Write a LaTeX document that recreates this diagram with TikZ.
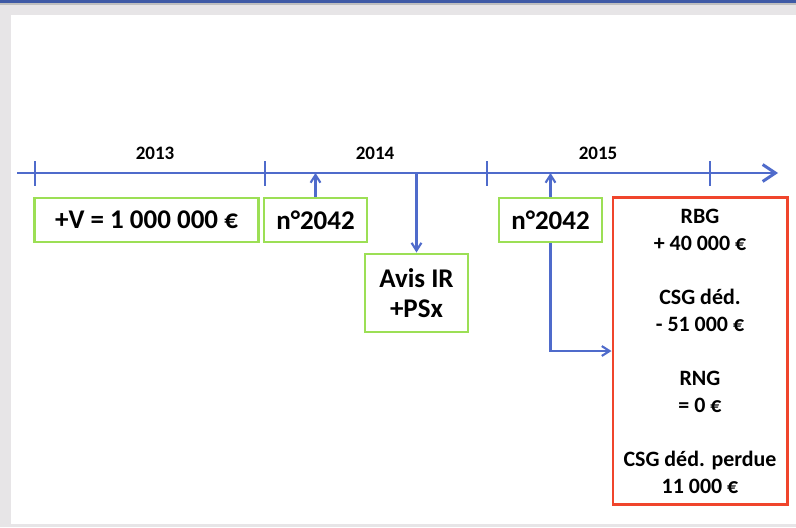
\documentclass[tikz,border=0pt]{standalone}
\usepackage{fontspec}
\setmainfont{Carlito}
\usetikzlibrary{arrows.meta,calc}
\definecolor{cline}{HTML}{4F6BCB}
\definecolor{cgreen}{HTML}{9CDF55}
\definecolor{cred}{HTML}{F0452C}
\definecolor{cframe}{HTML}{E7E5E7}
\definecolor{ctop}{HTML}{3F5AA6}
\begin{document}
\begin{tikzpicture}[
  x=0.025cm, y=-0.025cm,
  font=\bfseries,
  axis/.style={cline, line width=2.1pt, -{Straight Barb[length=9pt, width=12pt, line width=2.1pt]}},
  tick/.style={cline, line width=1.6pt},
  flow/.style={cline, line width=1.6pt, -{Straight Barb[length=5.5pt, width=7pt, line width=1.5pt]}},
  gbox/.style={draw=cgreen, line width=2.1pt, align=center, inner sep=2pt,
    font=\bfseries\fontsize{19.2}{21.5}\selectfont},
  rbox/.style={draw=cred, line width=2.1pt, align=center, inner sep=2pt,
    font=\bfseries\fontsize{15.6}{19.2}\selectfont},
  year/.style={font=\bfseries\fontsize{13.5}{15}\selectfont},
]
% =================== frame ===================
\fill[cframe] (0,0) rectangle (796,527);
\fill[white] (11,15) rectangle (796,524);
\fill[ctop] (0,0) rectangle (796,2.5);
\fill[black!25] (0,2.5) rectangle (796,4.5);
\useasboundingbox (0,0) rectangle (796,527);

% =================== time axis ===================
\coordinate (axS) at (17,173);
\coordinate (axE) at (778,173);
\draw[axis] (axS) -- (axE);
\foreach \tx in {35,265,487,710} { \draw[tick] (\tx,161) -- (\tx,186); }
\node[year] (y13) at (155,153) {2013};
\node[year] (y14) at (375,153) {2014};
\node[year] (y15) at (598,153) {2015};

% =================== boxes ===================
\node[gbox, minimum width=5.575cm, minimum height=1.1cm] (plusv) at (146.5,220) {+V = 1 000 000 €};
\node[gbox, minimum width=2.575cm, minimum height=1.1cm] (decl1) at (315.5,220) {n°2042};
\node[gbox, minimum width=2.575cm, minimum height=1.95cm] (avis) at (416.5,293) {Avis IR\\+PSx};
\node[gbox, minimum width=2.575cm, minimum height=1.1cm] (decl2) at (550.5,220) {n°2042};
\node[rbox, minimum width=4.35cm, minimum height=7.65cm] (calc) at (700,351)
  {RBG\\+ 40 000 €\\[19.2pt]CSG déd.\\- 51 000 €\\[19.2pt]RNG\\= 0 €\\[19.2pt]CSG déd. perdue\\11 000 €};

% =================== links ===================
\draw[flow] (decl1.north) -- (decl1.north |- axE);
\draw[flow] (avis.north |- axE) -- (avis.north);
\draw[flow] (decl2.north) -- (decl2.north |- axE);
\draw[flow] (decl2.south) |- (calc.west);
\end{tikzpicture}
\end{document}
